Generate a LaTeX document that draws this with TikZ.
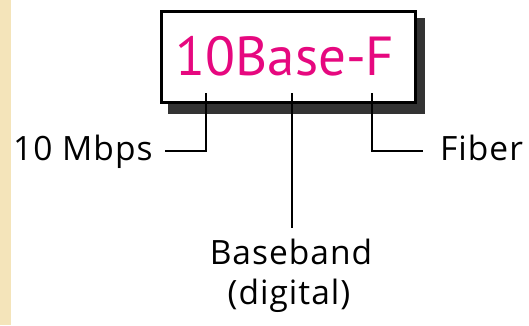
\documentclass[tikz,border=0pt]{standalone}
\usepackage{fontspec}
\setmainfont{PT Sans}
\newfontfamily\labelfont[LetterSpace=3]{Open Sans}
\definecolor{pinktext}{HTML}{E6087F}
\definecolor{sidestrip}{HTML}{F4E4BA}
\definecolor{shadowgray}{HTML}{333333}
\begin{document}
\begin{tikzpicture}[x=1pt,y=-1pt,
  leader/.style={line width=1.4pt,black},
  label/.style={inner sep=0pt,font=\labelfont\fontsize{33.5}{38}\selectfont}]
\useasboundingbox (0,0) rectangle (529,325);
\fill[white] (0,0) rectangle (529,325);
\fill[sidestrip] (0,0) rectangle (11,325);
% shadow and box
\fill[shadowgray] (168,18) rectangle (425,114);
\node[draw,line width=2.8pt,fill=white,minimum width=254pt,minimum height=91pt,inner sep=0pt]
  (box) at (288.5,57) {};
\node[inner sep=0pt,anchor=base,text=pinktext,font=\fontsize{55}{60}\selectfont]
  (name) at (285,75) {10Base-F};
% labels
\node[label,anchor=base west] (mbps) at (13,160) {10 Mbps};
\node[label,anchor=base west] (fiber) at (440,160) {Fiber};
\node[label,anchor=base] (band) at (291,264) {Baseband};
\node[label,anchor=base] (dig) at (289,304) {(digital)};
% leaders
\coordinate (t1) at (206,93);
\coordinate (t2) at (292,93);
\coordinate (t3) at (372,93);
\draw[leader] (t1) |- (165,151);
\draw[leader] (t2) -- (292,228);
\draw[leader] (t3) |- (423,151);
\end{tikzpicture}
\end{document}
